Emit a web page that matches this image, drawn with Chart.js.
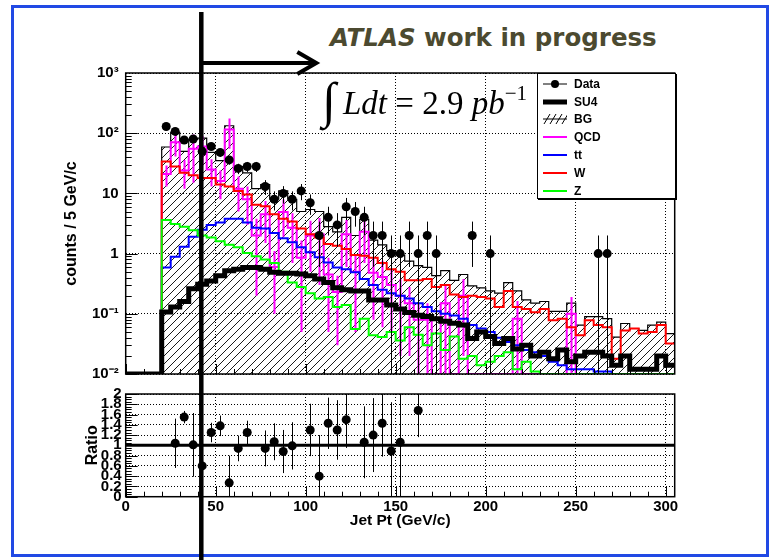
<!DOCTYPE html>
<html>
<head>
<meta charset="utf-8">
<title>Jet Pt</title>
<script src="https://cdn.jsdelivr.net/npm/chart.js@4.4.1/dist/chart.umd.min.js"></script>
<style>
    body { margin: 0; background: #fff; }
    #page { position: relative; width: 776px; height: 560px; overflow: hidden; background: #fff; font-family: 'Liberation Sans', Arial, sans-serif; }
    #frame { position: absolute; left: 11px; top: 5px; width: 752px; height: 546px; border: 3px solid #2149e4; }
    canvas { position: absolute; left: 0; top: 0; }
    #atlas { position: absolute; left: 330px; top: 23px; font: bold 24.5px 'DejaVu Sans', sans-serif; color: #4c4a30; white-space: nowrap; }
    #lumi { position: absolute; left: 343px; top: 88px; font: 33px 'Liberation Serif', serif; line-height: 31px; white-space: nowrap; }
    #lumi sup { font-size: 21px; vertical-align: 14px; line-height: 0; }
    #integral { position: absolute; left: 322px; top: 77px; font: 50px 'Liberation Serif', serif; line-height: 46px; }
    #legend { position: absolute; left: 537px; top: 73px; width: 137px; height: 124px; border: 1px solid #000; background: #fff; box-shadow: 1px 1px 0 #000; }
    #legend .row { height: 17.8px; display: flex; align-items: center; font: bold 12px 'Liberation Sans', Arial, sans-serif; }
    #legend .row:first-child { margin-top: 1px; }
    #legend svg { margin: 0 7px 0 5px; }
    #cut { position: absolute; left: 0; top: 0; }
</style>
</head>
<body>
<div id="page">
    <div id="frame"></div>
    <div id="atlas"><i>ATLAS</i> work in progress</div>
    <canvas id="main" width="776" height="390"></canvas>
    <canvas id="ratio" width="776" height="560"></canvas>
    <div id="integral">∫</div>
    <div id="lumi"><i>Ldt</i> = 2.9 <i>pb</i><sup>−1</sup></div>
    <div id="legend">
        <div class="row"><svg width="24" height="12"><line x1="0" y1="6" x2="24" y2="6" stroke="#000"/><circle cx="12" cy="6" r="4"/></svg>Data</div>
        <div class="row"><svg width="24" height="12"><line x1="0" y1="6" x2="24" y2="6" stroke="#000" stroke-width="5"/></svg>SU4</div>
        <div class="row"><svg width="24" height="12"><g stroke="#000"><line x1="1" y1="11" x2="7" y2="1"/><line x1="7" y1="11" x2="13" y2="1"/><line x1="13" y1="11" x2="19" y2="1"/><line x1="19" y1="11" x2="25" y2="1"/><line x1="0" y1="6" x2="24" y2="6"/></g></svg>BG</div>
        <div class="row"><svg width="24" height="12"><line x1="0" y1="6" x2="24" y2="6" stroke="#ff00ff" stroke-width="2"/></svg>QCD</div>
        <div class="row"><svg width="24" height="12"><line x1="0" y1="6" x2="24" y2="6" stroke="#0000ff" stroke-width="2"/></svg>tt</div>
        <div class="row"><svg width="24" height="12"><line x1="0" y1="6" x2="24" y2="6" stroke="#ff0000" stroke-width="2"/></svg>W</div>
        <div class="row"><svg width="24" height="12"><line x1="0" y1="6" x2="24" y2="6" stroke="#00ff00" stroke-width="2"/></svg>Z</div>
    </div>
    <svg id="cut" width="776" height="560"></svg>
</div>
<script>
// ========================================
// JET PT — DATA vs MC (ATLAS, 2.9 pb-1)
// ========================================

// --- Binning: 5 GeV bins, lower edges 0..300 ---
const BIN_W = 5;
const X_MAX = 305;
const EDGES = Array.from({ length: 61 }, (_, i) => i * BIN_W);
const X_TICKS = [0, 50, 100, 150, 200, 250, 300];
const Y_MIN = 0.01;
const Y_MAX = 1000;
const PT_CUT = 42;

// --- Histograms (counts / 5 GeV/c), one value per bin ---
const BG = [
    0, 0, 0, 0, 59, 103, 50, 79, 83, 48,                      // 0-45
    35, 133, 28, 22, 12, 14, 8, 11, 8, 5,                     // 50-95
    5.4, 5, 2.8, 2.3, 4, 2.0, 3.7, 1.67, 1.4, 1.12,           // 100-145
    0.94, 0.75, 0.63, 0.59, 0.43, 0.52, 0.36, 0.45, 0.29, 0.27, // 150-195
    0.24, 0.22, 0.33, 0.24, 0.17, 0.15, 0.16, 0.11, 0.11, 0.15, // 200-245
    0.065, 0.09, 0.09, 0.083, 0.041, 0.069, 0.057, 0.053, 0.065, 0.073, // 250-295
    0.047                                                     // 300
];
const QCD = [
    0, 0, 0, 0, 21, 71, 24, 55, 60, 25,
    16, 115, 12, 8, 2, 4.5, 0.6, 4.9, 2.7, 0.85,
    2.0, 2.1, 0.45, 0.23, 2.1, 0.5, 2.3, 0.48, 0.41, 0.3,
    0.2, 0.15, 0.08, 0.08, 0, 0.15, 0, 0.2, 0, 0,
    0, 0, 0, 0.083, 0, 0, 0, 0, 0, 0.1,
    0, 0, 0, 0, 0, 0, 0, 0, 0, 0,
    0
];
const QCD_ERR = [
    0, 0, 0, 0, 8, 30, 12, 40, 30, 12,
    8, 60, 7, 5, 1.8, 3, 0.5, 3, 2, 0.8,
    1.5, 1.8, 0.4, 0.2, 1.5, 0.45, 1.6, 0.4, 0.35, 0.25,
    0.18, 0.13, 0.07, 0.07, 0, 0.14, 0, 0.18, 0, 0,
    0, 0, 0, 0.08, 0, 0, 0, 0, 0, 0.09,
    0, 0, 0, 0, 0, 0, 0, 0, 0, 0,
    0
];
const TT = [
    0, 0, 0, 0, 0.59, 0.89, 1.3, 1.9, 2.5, 3.0,
    3.3, 3.8, 3.8, 3.3, 2.7, 2.6, 2.2, 1.8, 1.55, 1.27,
    1.05, 0.87, 0.71, 0.59, 0.55, 0.49, 0.38, 0.3, 0.25, 0.22,
    0.2, 0.18, 0.15, 0.13, 0.11, 0.1, 0.094, 0.083, 0.065, 0.057,
    0.05, 0.04, 0.034, 0.03, 0.025, 0.023, 0.02, 0.016, 0.014, 0.012,
    0.012, 0.012, 0.011, 0.011, 0, 0, 0, 0, 0, 0,
    0
];
const W = [
    0, 0, 0, 0, 34, 28, 22, 20, 18, 18,
    14, 13, 11, 9.6, 6.5, 6.1, 4.5, 3.8, 3.4, 2.6,
    2.1, 1.85, 1.45, 1.35, 1.19, 0.95, 0.92, 0.85, 0.7, 0.55,
    0.5, 0.36, 0.36, 0.38, 0.28, 0.3, 0.21, 0.19, 0.2, 0.19,
    0.18, 0.13, 0.24, 0.13, 0.12, 0.106, 0.12, 0.078, 0.083, 0.06,
    0.044, 0.078, 0.065, 0.06, 0.018, 0.053, 0.057, 0.047, 0.05, 0.065,
    0.032
];
const Z = [
    0, 0, 0, 0, 3.6, 3.1, 2.8, 2.45, 2.0, 1.85,
    1.6, 1.4, 1.28, 1.02, 0.9, 0.8, 0.7, 0.5, 0.33, 0.28,
    0.22, 0.18, 0.19, 0.13, 0.14, 0.056, 0.083, 0.044, 0.041, 0.05,
    0.036, 0.06, 0.045, 0.03, 0.047, 0.025, 0.042, 0.018, 0.02, 0.014,
    0.016, 0.02, 0.023, 0.012, 0.016, 0.011, 0, 0, 0, 0,
    0, 0, 0, 0, 0, 0, 0, 0, 0, 0,
    0
];
const SU4 = [
    0, 0, 0, 0, 0.107, 0.13, 0.16, 0.26, 0.31, 0.35,
    0.43, 0.52, 0.55, 0.59, 0.59, 0.55, 0.49, 0.47, 0.47, 0.46,
    0.43, 0.38, 0.33, 0.27, 0.25, 0.24, 0.24, 0.17, 0.17, 0.14,
    0.12, 0.105, 0.095, 0.09, 0.083, 0.075, 0.07, 0.065, 0.039, 0.05,
    0.042, 0.032, 0.039, 0.026, 0.03, 0.02, 0.023, 0.018, 0.025, 0.016,
    0.02, 0.023, 0.023, 0.02, 0.014, 0.02, 0.012, 0.012, 0.012, 0.02,
    0.014
];
const DATA = [
    0, 0, 0, 0, 129, 107, 77, 80, 50, 60,
    48, 36, 26, 28, 28, 13, 8, 10, 8, 11,
    7, 2, 4, 3, 6, 5, 4, 2, 2, 1,
    1, 2, 1, 2, 1, 0, 0, 0, 2, 0,
    1, 0, 0, 0, 0, 0, 0, 0, 0, 0,
    0, 0, 1, 1, 0, 0, 0, 0, 0, 0,
    0
];
const DATA_ERR = [
    0, 0, 0, 0, 11.4, 10.3, 8.8, 8.9, 7.1, 7.7,
    6.9, 6, 5.1, 5.3, 5.3, 3.6, 2.8, 3.2, 2.8, 3.3,
    2.6, 1.4, 2, 1.7, 2.4, 2.2, 2, 1.4, 1.4, 1,
    1, 1.4, 1, 1.4, 1, 0, 0, 0, 1.4, 0,
    1, 0, 0, 0, 0, 0, 0, 0, 0, 0,
    0, 0, 1, 1, 0, 0, 0, 0, 0, 0,
    0
];

// --- Ratio Data / BG ---
const RATIO_BINS = [25, 30, 35, 40, 45, 50, 55, 60, 65, 75, 80, 85, 90, 100, 105, 110, 115, 120, 130, 135, 140, 145, 150, 160];
const RATIO = [1.04, 1.55, 1.01, 0.60, 1.25, 1.38, 0.27, 0.94, 1.25, 0.94, 1.07, 0.88, 0.99, 1.30, 0.40, 1.43, 1.30, 1.50, 1.06, 1.20, 1.43, 0.89, 1.06, 1.68];
const RATIO_ERR = [0.48, 0.12, 0.62, 0.1, 0.19, 0.2, 0.53, 0.25, 0.23, 0.35, 0.36, 0.42, 0.46, 0.51, 0.8, 0.5, 0.58, 0.55, 0.7, 0.72, 0.65, 0.95, 1.1, 0.52];

const LOG_LABELS = { '-2': '10⁻²', '-1': '10⁻¹', '0': '1', '1': '10', '2': '10²', '3': '10³' };

// --- helpers ---
function histPoints(vals) {
    // empty bins sit on the axis floor, like ROOT does on a log pad
    const pts = vals.map((v, i) => ({ x: EDGES[i], y: v > 0 ? v : Y_MIN }));
    pts.push({ x: X_MAX, y: pts[pts.length - 1].y });
    return pts;
}

function binErrors(vals, errs) {
    const out = [];
    vals.forEach((v, i) => {
        if (v > 0 && errs[i] > 0) out.push({ x: EDGES[i] + BIN_W / 2, y: v, err: errs[i] });
    });
    return out;
}

function hatch() {
    const c = document.createElement('canvas');
    c.width = 8; c.height = 8;
    const g = c.getContext('2d');
    g.strokeStyle = '#000';
    g.lineWidth = 0.9;
    g.beginPath();
    g.moveTo(0, 8); g.lineTo(8, 0);
    g.moveTo(-4, 4); g.lineTo(4, -4);
    g.moveTo(4, 12); g.lineTo(12, 4);
    g.stroke();
    return g.createPattern(c, 'repeat');
}

const isDecade = v => Math.abs(Math.log10(v) - Math.round(Math.log10(v))) < 1e-6;

// --- plugins: ROOT style frame + ticks, error bars ---
const rootAxes = {
    id: 'rootAxes',
    afterDatasetsDraw(chart, args, opts) {
        const { ctx, chartArea: a, scales: { x, y } } = chart;
        ctx.save();
        ctx.strokeStyle = '#000';
        ctx.lineWidth = 1;
        ctx.beginPath();
        for (let v = 0; v <= x.max; v += opts.xMinor) {
            const px = Math.round(x.getPixelForValue(v)) + 0.5;
            const len = v % opts.xMajor === 0 ? 10 : 5;
            ctx.moveTo(px, a.bottom); ctx.lineTo(px, a.bottom - len);
        }
        if (opts.log) {
            for (let d = Math.log10(y.min); d < Math.log10(y.max); d++) {
                for (let m = 1; m <= 9; m++) {
                    const py = Math.round(y.getPixelForValue(m * Math.pow(10, d))) + 0.5;
                    ctx.moveTo(a.left, py); ctx.lineTo(a.left + (m === 1 ? 12 : 6), py);
                }
            }
        } else {
            const n = Math.round((y.max - y.min) / opts.yMinor);
            const every = Math.round(opts.yMajor / opts.yMinor);
            for (let k = 0; k <= n; k++) {
                const py = Math.round(y.getPixelForValue(y.min + k * opts.yMinor)) + 0.5;
                ctx.moveTo(a.left, py); ctx.lineTo(a.left + (k % every === 0 ? 12 : 6), py);
            }
        }
        ctx.stroke();
        ctx.lineWidth = 1.5;
        ctx.strokeRect(a.left, a.top, a.right - a.left, a.bottom - a.top);
        ctx.restore();
    }
};

const errorBars = {
    id: 'errorBars',
    afterDatasetDraw(chart, args) {
        const ds = chart.data.datasets[args.index];
        if (!ds.errors) return;
        const { ctx, chartArea: a, scales: { x, y } } = chart;
        ctx.save();
        ctx.beginPath();
        ctx.rect(a.left, a.top, a.right - a.left, a.bottom - a.top);
        ctx.clip();
        ctx.strokeStyle = ds.errColor;
        ctx.lineWidth = ds.errWidth;
        ctx.beginPath();
        ds.errors.forEach(e => {
            const px = Math.round(x.getPixelForValue(e.x)) + 0.5;
            const lo = Math.max(e.y - e.err, y.min);
            const hi = Math.min(e.y + e.err, y.max);
            ctx.moveTo(px, y.getPixelForValue(lo));
            ctx.lineTo(px, y.getPixelForValue(hi));
        });
        ctx.stroke();
        ctx.restore();
    }
};

// --- Chart defaults ---
Chart.defaults.font.family = "'Liberation Sans', Arial, sans-serif";
Chart.defaults.color = '#000';

const BOLD = { size: 15, weight: 'bold' };
const TITLE_FONT = { size: 16, weight: 'bold' };
const PLOT_LEFT = 125.7;
const PLOT_RIGHT = 674.7;

function histo(label, vals, color, width, order, extra) {
    return Object.assign({
        label, data: histPoints(vals), borderColor: color, borderWidth: width,
        stepped: true, pointRadius: 0, fill: false, order
    }, extra || {});
}

const fixedXTicks = s => { s.ticks = X_TICKS.map(v => ({ value: v })); };

// --- Chart: spectrum (log) ---
const dataPts = [];
DATA.forEach((n, i) => { if (n > 0) dataPts.push({ x: EDGES[i] + BIN_W / 2, y: n }); });

const main = new Chart(document.getElementById('main'), {
    type: 'line',
    data: {
        datasets: [
            { label: 'Data', data: dataPts, showLine: false, pointRadius: 4.5, pointHoverRadius: 4.5,
              pointBackgroundColor: '#000', pointBorderWidth: 0, order: 0,
              errors: binErrors(DATA, DATA_ERR), errColor: '#000', errWidth: 1 },
            histo('SU4', SU4, '#000', 5, 1),
            histo('Z', Z, '#00ff00', 2, 3),
            histo('W', W, '#ff0000', 2, 4),
            histo('tt', TT, '#0000ff', 2, 5),
            histo('QCD', QCD, '#ff00ff', 2, 6, { errors: binErrors(QCD, QCD_ERR), errColor: '#ff00ff', errWidth: 2 }),
            histo('BG', BG, '#000', 1.2, 10, { fill: 'start', backgroundColor: hatch() })
        ]
    },
    options: {
        responsive: false,
        animation: false,
        events: [],
        layout: { padding: { left: 0, top: 73, right: 776 - PLOT_RIGHT, bottom: 0 } },
        plugins: {
            legend: { display: false },
            tooltip: { enabled: false },
            rootAxes: { xMinor: 10, xMajor: 50, log: true }
        },
        scales: {
            x: {
                type: 'linear', min: 0, max: X_MAX,
                ticks: { display: false },
                grid: { drawTicks: false, color: '#000', lineWidth: 1 },
                border: { display: false, dash: [1, 2] },
                afterBuildTicks: fixedXTicks,
                afterFit: s => { s.height = 14.5; }
            },
            y: {
                type: 'logarithmic', min: Y_MIN, max: Y_MAX,
                ticks: { font: BOLD, padding: 7, callback: v => LOG_LABELS[Math.round(Math.log10(v))] },
                grid: { drawTicks: false, color: '#000', lineWidth: 1 },
                border: { display: false, dash: [1, 2] },
                title: { display: true, text: 'counts / 5 GeV/c', font: TITLE_FONT, padding: { top: 62, bottom: 0 } },
                afterBuildTicks: s => { s.ticks = s.ticks.filter(t => isDecade(t.value)); },
                afterFit: s => { s.width = PLOT_LEFT; }
            }
        }
    },
    plugins: [rootAxes, errorBars]
});

// --- Chart: ratio ---
const ratioPts = RATIO.map((r, i) => ({ x: RATIO_BINS[i] + BIN_W / 2, y: r }));
const ratioErr = RATIO.map((r, i) => ({ x: RATIO_BINS[i] + BIN_W / 2, y: r, err: RATIO_ERR[i] }));

new Chart(document.getElementById('ratio'), {
    type: 'line',
    data: {
        datasets: [
            { label: 'Data/BG', data: ratioPts, showLine: false, pointRadius: 4.5, pointHoverRadius: 4.5,
              pointBackgroundColor: '#000', pointBorderWidth: 0, order: 0,
              errors: ratioErr, errColor: '#000', errWidth: 1 },
            { label: 'unity', data: [{ x: 0, y: 1 }, { x: X_MAX, y: 1 }], borderColor: '#000',
              borderWidth: 3, pointRadius: 0, order: 1 }
        ]
    },
    options: {
        responsive: false,
        animation: false,
        events: [],
        layout: { padding: { left: 0, top: 394, right: 776 - PLOT_RIGHT, bottom: 0 } },
        plugins: {
            legend: { display: false },
            tooltip: { enabled: false },
            rootAxes: { xMinor: 10, xMajor: 50, log: false, yMinor: 0.05, yMajor: 0.2 }
        },
        scales: {
            x: {
                type: 'linear', min: 0, max: X_MAX,
                ticks: { font: BOLD, padding: 1, maxRotation: 0, autoSkip: false },
                grid: { drawTicks: false, color: '#000', lineWidth: 1 },
                border: { display: false, dash: [1, 2] },
                title: { display: true, text: 'Jet Pt (GeV/c)', font: { size: 15.5, weight: 'bold' }, padding: { top: 0, bottom: 29.5 } },
                afterBuildTicks: fixedXTicks,
                afterFit: s => { s.height = 560 - 496.7; }
            },
            y: {
                type: 'linear', min: 0, max: 2,
                ticks: { font: { size: 15, weight: 'bold' }, padding: 4, stepSize: 0.2, autoSkip: false,
                         callback: v => String(+v.toFixed(1)) },
                grid: { drawTicks: false, color: '#000', lineWidth: 1 },
                border: { display: false, dash: [1, 2] },
                title: { display: true, text: 'Ratio', font: TITLE_FONT, padding: { top: 83, bottom: 0 } },
                afterFit: s => { s.width = PLOT_LEFT; }
            }
        }
    },
    plugins: [rootAxes, errorBars]
});

// --- Pt cut marker + arrow ---
const cx = main.scales.x.getPixelForValue(PT_CUT);
document.getElementById('cut').innerHTML =
    `<line x1="${cx}" y1="12" x2="${cx}" y2="560" stroke="#000" stroke-width="4.5"/>` +
    `<line x1="${cx}" y1="63" x2="${cx + 114}" y2="63" stroke="#000" stroke-width="4"/>` +
    `<polyline points="${cx + 96},52 ${cx + 115},63 ${cx + 96},74" fill="none" stroke="#000" stroke-width="4"/>`;
</script>
</body>
</html>
